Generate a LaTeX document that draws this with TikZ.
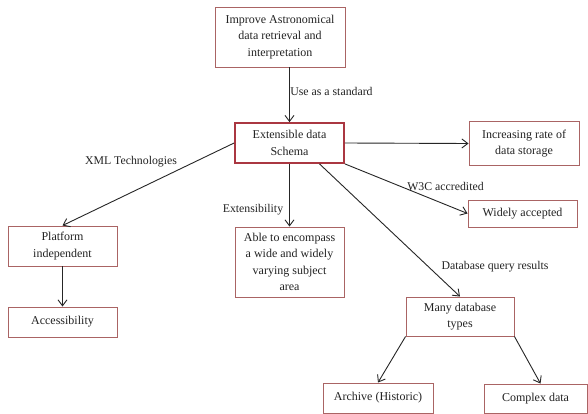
\documentclass[tikz,border=0pt]{standalone}
\usepackage{fontspec}
\setmainfont{Liberation Serif}
\usetikzlibrary{arrows.meta}
\definecolor{boxline}{RGB}{170,100,100}
\definecolor{mainline}{RGB}{170,55,65}
\definecolor{txt}{RGB}{35,35,35}
\begin{document}
\begin{tikzpicture}[x=1pt,y=-1pt,
  box/.style={draw=boxline,line width=0.9pt,fill=white,align=center,inner sep=2pt,
    font=\fontsize{12}{16.5}\selectfont,text=txt},
  mainbox/.style={box,draw=mainline,line width=1.8pt},
  lbl/.style={font=\fontsize{11.8}{14}\selectfont,text=txt,inner sep=0pt},
  conn/.style={draw=black!85,line width=0.9pt,-{Straight Barb[length=6pt,width=9pt]}}]
\useasboundingbox (0,0) rectangle (588,414);
\fill[white] (0,0) rectangle (588,414);

\node[box,minimum width=130pt,minimum height=60pt] (top) at (280,37) {Improve Astronomical\\data retrieval and\\interpretation};
\node[mainbox,minimum width=109pt,minimum height=40pt] (schema) at (289.5,143) {Extensible data\\Schema};
\node[box,minimum width=110pt,minimum height=44pt] (incr) at (524,143.5) {Increasing rate of\\data storage};
\node[box,minimum width=109pt,minimum height=27pt] (widely) at (522.5,213.5) {Widely accepted};
\node[box,minimum width=109pt,minimum height=70pt] (able) at (289.5,262) {Able to encompass\\a wide and widely\\varying subject\\area};
\node[box,minimum width=109pt,minimum height=40pt] (platform) at (62.5,246) {Platform\\independent};
\node[box,minimum width=109pt,minimum height=30pt] (access) at (62.5,322) {Accessibility};
\node[box,minimum width=108pt,minimum height=39pt] (many) at (460,316.5) {Many database\\types};
\node[box,minimum width=110pt,minimum height=30pt] (archive) at (378,398) {Archive (Historic)};
\node[box,minimum width=103pt,minimum height=29pt] (complex) at (535.5,398.5) {Complex data};

\draw[conn] (schema.north |- top.south) -- (schema.north);
\draw[conn] (schema.west) -- (platform.north);
\draw[conn] (schema.south) -- (able.north);
\draw[conn] (schema.east) -- (incr.west);
\draw[conn] (schema.south east) -- (widely.west);
\draw[conn] ([xshift=30pt]schema.south) -- (many.north);
\draw[conn] (platform.south) -- (access.north);
\draw[conn] (many.south west) -- (archive.north);
\draw[conn] (many.south east) -- ([xshift=5pt]complex.north);

\node[lbl] (l1) at (331.5,91) {Use as a standard};
\node[lbl] (l2) at (131,162) {XML Technologies};
\node[lbl] (l3) at (253,210) {Extensibility};
\node[lbl] (l4) at (445.5,186) {W3C accredited};
\node[lbl] (l5) at (495,267) {Database query results};
\end{tikzpicture}
\end{document}
